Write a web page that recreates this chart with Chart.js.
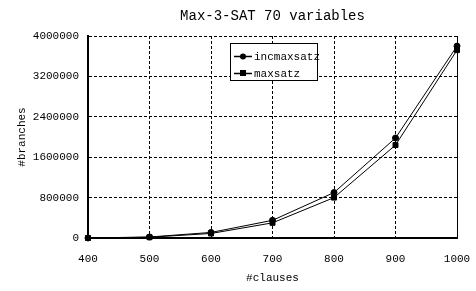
<!DOCTYPE html>
<html>
<head>
<meta charset="utf-8">
<script src="https://cdn.jsdelivr.net/npm/chart.js@4"></script>
<style>
  html, body { margin: 0; padding: 0; background: #fff; }
  #wrap { width: 476px; height: 291px; }
</style>
</head>
<body>
<div id="wrap"><canvas id="chart" width="476" height="291"></canvas></div>
<script>
// values
const clauses = [400, 500, 600, 700, 800, 900, 1000];
const incmaxsatz = [0, 20000, 110000, 350000, 900000, 1980000, 3800000];
const maxsatz = [0, 15000, 90000, 300000, 800000, 1840000, 3720000];
const yTicks = [0, 800000, 1600000, 2400000, 3200000, 4000000];
const chartTitle = 'Max-3-SAT 70 variables';

const FONT = '"Liberation Mono", monospace';

function toPoints(xs, ys) {
    return xs.map((x, i) => ({ x: x, y: ys[i] }));
}

// title over the plot area, legend box, solid right edge
const framePlugin = {
    id: 'framePlugin',
    afterDraw(chart) {
        const ctx = chart.ctx;
        const a = chart.chartArea;
        ctx.save();
        ctx.strokeStyle = '#000';
        ctx.lineWidth = 1;
        ctx.setLineDash([]);
        ctx.beginPath();
        ctx.moveTo(a.right + 0.5, a.top);
        ctx.lineTo(a.right + 0.5, a.bottom);
        ctx.stroke();

        ctx.fillStyle = '#000';
        ctx.font = '14px ' + FONT;
        ctx.textAlign = 'center';
        ctx.textBaseline = 'middle';
        ctx.fillText(chartTitle, (a.left + a.right) / 2, 16);

        // legend
        ctx.textAlign = 'left';
        const bx = 230.5, by = 43.5, bw = 87, bh = 37;
        ctx.fillStyle = '#fff';
        ctx.fillRect(bx, by, bw, bh);
        ctx.strokeRect(bx, by, bw, bh);
        ctx.font = '11px ' + FONT;
        chart.data.datasets.forEach((ds, i) => {
            const ly = 56 + i * 17;
            ctx.beginPath();
            ctx.moveTo(234, ly + 0.5);
            ctx.lineTo(252, ly + 0.5);
            ctx.lineWidth = 1.5;
            ctx.stroke();
            ctx.fillStyle = '#000';
            if (ds.pointStyle === 'rect') {
                ctx.fillRect(240, ly - 3, 6, 6);
            } else {
                ctx.beginPath();
                ctx.arc(243, ly + 0.5, 3, 0, Math.PI * 2);
                ctx.fill();
            }
            ctx.fillText(ds.label, 254, ly + 1);
        });
        ctx.restore();
    }
};

new Chart(document.getElementById('chart'), {
    type: 'line',
    data: {
        datasets: [{
            label: 'incmaxsatz',
            data: toPoints(clauses, incmaxsatz),
            borderColor: '#000',
            backgroundColor: '#000',
            borderWidth: 1,
            pointStyle: 'circle',
            pointRadius: 3,
            tension: 0,
            clip: false
        }, {
            label: 'maxsatz',
            data: toPoints(clauses, maxsatz),
            borderColor: '#000',
            backgroundColor: '#000',
            borderWidth: 1,
            pointStyle: 'rect',
            pointRadius: 3.5,
            tension: 0,
            clip: false
        }]
    },
    options: {
        responsive: false,
        animation: false,
        layout: { padding: { right: 19, left: 0, top: 36, bottom: 0 } },
        plugins: {
            legend: { display: false },
            tooltip: { enabled: false },
            title: { display: false }
        },
        scales: {
            x: {
                type: 'linear',
                min: 400,
                max: 1000,
                afterFit(scale) {
                    scale.height = 53;
                    scale.paddingRight = 0;
                    scale.paddingLeft = 0;
                },
                ticks: {
                    stepSize: 100,
                    color: '#000',
                    padding: 14,
                    font: { family: FONT, size: 11 },
                    callback: v => String(v)
                },
                grid: {
                    color: '#000',
                    lineWidth: 1,
                    drawTicks: false
                },
                border: { color: '#000', width: 2, dash: [3, 2] },
                title: {
                    display: true,
                    text: '#clauses',
                    color: '#000',
                    font: { family: FONT, size: 11 },
                    padding: { top: 0, bottom: 6 }
                }
            },
            y: {
                min: 0,
                max: 4000000,
                afterFit(scale) {
                    scale.width = 88;
                    scale.paddingTop = 0;
                    scale.paddingBottom = 0;
                },
                afterBuildTicks(scale) {
                    scale.ticks = yTicks.map(v => ({ value: v }));
                },
                ticks: {
                    color: '#000',
                    padding: 9,
                    font: { family: FONT, size: 11 },
                    callback: v => String(v)
                },
                grid: {
                    color: '#000',
                    lineWidth: 1,
                    drawTicks: false
                },
                border: { color: '#000', width: 2, dash: [3, 2] },
                title: {
                    display: true,
                    text: '#branches',
                    color: '#000',
                    font: { family: FONT, size: 11 },
                    padding: { top: 15, bottom: 0 }
                }
            }
        }
    },
    plugins: [framePlugin]
});
</script>
</body>
</html>
